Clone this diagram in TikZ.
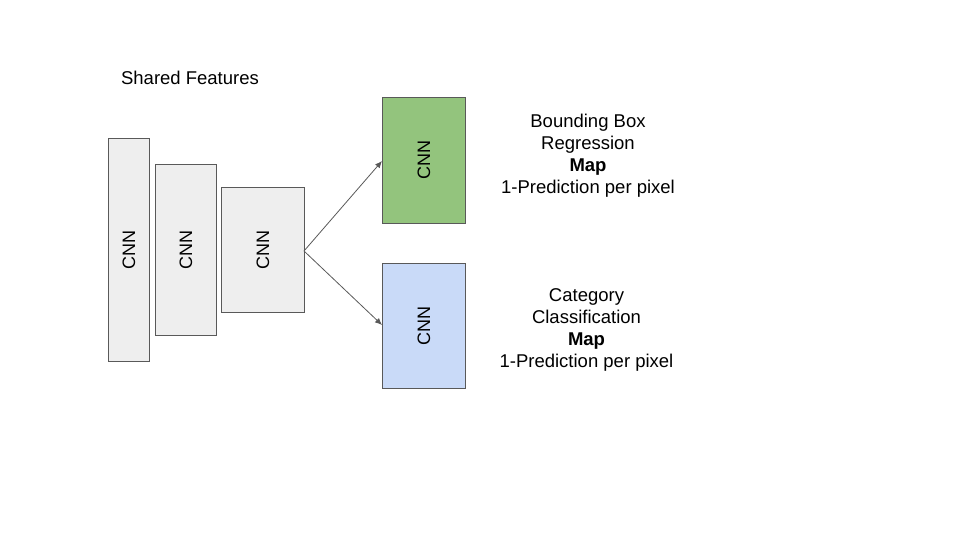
\documentclass[tikz,border=0pt]{standalone}
\usepackage{fontspec}
\setmainfont{Liberation Sans}
\usetikzlibrary{arrows.meta}
\definecolor{boxgray}{HTML}{EEEEEE}
\definecolor{edgegray}{HTML}{595959}
\definecolor{boxgreen}{HTML}{93C47D}
\definecolor{boxblue}{HTML}{C9DAF8}
\tikzset{
  cnn/.style={draw=edgegray, line width=0.9pt, inner sep=0pt, anchor=north west},
  cnnlabel/.style={rotate=90, font=\fontsize{18}{22}\selectfont},
  desc/.style={align=center, font=\fontsize{18.5}{22}\selectfont},
  link/.style={draw=edgegray, line width=0.8pt, -{Latex[length=7pt,width=6pt]}}
}
\begin{document}
\begin{tikzpicture}[x=1pt,y=-1pt]
\useasboundingbox (0,0) rectangle (960,540);
\node[cnn, fill=boxgray, minimum width=41pt, minimum height=223pt] (c1) at (108,138) {};
\node[cnn, fill=boxgray, minimum width=61pt, minimum height=171pt] (c2) at (155,164) {};
\node[cnn, fill=boxgray, minimum width=83pt, minimum height=125pt] (c3) at (221,187) {};
\node[cnn, fill=boxgreen, minimum width=83pt, minimum height=126pt] (g) at (382,97) {};
\node[cnn, fill=boxblue, minimum width=83pt, minimum height=125pt] (b) at (382,263) {};
\node[cnnlabel] (l1) at (c1.center) {CNN};
\node[cnnlabel] (l2) at (c2.center) {CNN};
\node[cnnlabel] (l3) at (c3.center) {CNN};
\node[cnnlabel] (lg) at (g.center) {CNN};
\node[cnnlabel] (lb) at (b.center) {CNN};
\coordinate (s) at (304,251);
\coordinate (tg) at (382,161);
\coordinate (tb) at (382,325);
\draw[link] (s) -- (tg);
\draw[link] (s) -- (tb);
\node[desc] (sf) at (190,78) {Shared Features};
\node[desc] (d1) at (588,156) {Bounding Box\\Regression\\\textbf{Map}\\1-Prediction per pixel};
\node[desc] (d2) at (586.5,329.5) {Category\\Classification\\\textbf{Map}\\1-Prediction per pixel};
\end{tikzpicture}
\end{document}
